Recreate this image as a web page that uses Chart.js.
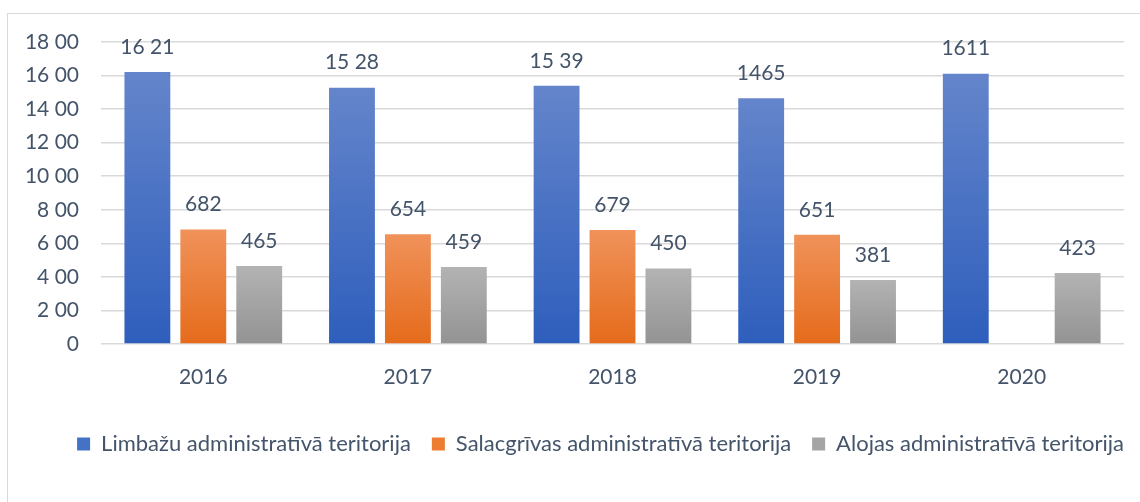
<!DOCTYPE html>
<html>
<head>
<meta charset="utf-8">
<script src="https://cdn.jsdelivr.net/npm/chart.js@4"></script>
<style>
  html, body { margin: 0; padding: 0; background: #fff; }
  #frame { position: absolute; left: 7px; top: 13px; width: 1200px; height: 600px;
           border-left: 1.5px solid #d9d9d9; border-top: 1.5px solid #d9d9d9; }
  #wrap { position: absolute; left: 0; top: 0; width: 1140px; height: 502px; }
</style>
</head>
<body>
<div id="frame"></div>
<div id="wrap"><canvas id="chart"></canvas></div>
<script>
const years = ['2016', '2017', '2018', '2019', '2020'];
const limbazi = [1621, 1528, 1539, 1465, 1611];
const salacgriva = [682, 654, 679, 651, null];
const aloja = [465, 459, 450, 381, 423];
const limbaziLabels = ['16 21', '15 28', '15 39', '1465', '1611'];
const salacgrivaLabels = ['682', '654', '679', '651', ''];
const alojaLabels = ['465', '459', '450', '381', '423'];
const yTickLabels = ['0', '2 00', '4 00', '6 00', '8 00', '10 00', '12 00', '14 00', '16 00', '18 00'];

const textColor = '#44546a';
const fontFamily = 'Lato, "Open Sans", sans-serif';

function barGradient(top, bottom) {
    return (context) => {
        const chart = context.chart;
        const area = chart.chartArea;
        if (!area || context.raw == null) return bottom;
        const y = chart.scales.y.getPixelForValue(context.raw);
        const base = chart.scales.y.getPixelForValue(0);
        const g = chart.ctx.createLinearGradient(0, y, 0, base);
        g.addColorStop(0, top);
        g.addColorStop(1, bottom);
        return g;
    };
}

// value labels above the bars
const valueLabelPlugin = {
    id: 'valueLabels',
    afterDatasetsDraw(chart) {
        const ctx = chart.ctx;
        ctx.save();
        ctx.fillStyle = textColor;
        ctx.font = '21px ' + fontFamily;
        ctx.textAlign = 'center';
        ctx.textBaseline = 'middle';
        chart.data.datasets.forEach((ds, i) => {
            chart.getDatasetMeta(i).data.forEach((bar, j) => {
                if (ds.data[j] == null) return;
                ctx.fillText(ds.valueLabels[j], bar.x, bar.y - 25);
            });
        });
        ctx.restore();
    }
};

// nudge the legend row a bit to the right, like the original
const legendShiftPlugin = {
    id: 'legendShift',
    afterLayout(chart) {
        if (!chart.legend) return;
        chart.legend.left += 21;
        chart.legend.right += 21;
    }
};

const ctx = document.getElementById('chart').getContext('2d');
const chart = new Chart(ctx, {
    type: 'bar',
    data: {
        labels: years,
        datasets: [{
            label: 'Limbažu administratīvā teritorija',
            data: limbazi,
            valueLabels: limbaziLabels,
            backgroundColor: barGradient('#6485cb', '#2e5ebc'),
            legendColor: '#4472c4'
        }, {
            label: 'Salacgrīvas administratīvā teritorija',
            data: salacgriva,
            valueLabels: salacgrivaLabels,
            backgroundColor: barGradient('#f0925a', '#e56b1b'),
            legendColor: '#ed7d31'
        }, {
            label: 'Alojas administratīvā teritorija',
            data: aloja,
            valueLabels: alojaLabels,
            backgroundColor: barGradient('#b3b3b3', '#939393'),
            legendColor: '#a5a5a5'
        }]
    },
    options: {
        responsive: true,
        maintainAspectRatio: false,
        animation: false,
        layout: { padding: { top: 42, right: 16, bottom: 37, left: 0 } },
        datasets: { bar: { categoryPercentage: 0.82, barPercentage: 0.82 } },
        scales: {
            x: {
                grid: { display: false, drawTicks: false },
                border: { display: false },
                ticks: { color: textColor, font: { family: fontFamily, size: 21 }, padding: 21 },
                afterFit: (scale) => { scale.height = 68; }
            },
            y: {
                min: 0, max: 1800,
                grid: { color: '#d9d9d9', lineWidth: 1.5, drawTicks: false },
                border: { display: false },
                ticks: {
                    stepSize: 200,
                    color: textColor,
                    font: { family: fontFamily, size: 21 },
                    padding: 22,
                    callback: (value, index) => yTickLabels[index]
                },
                afterFit: (scale) => { scale.width = 101; }
            }
        },
        plugins: {
            tooltip: { enabled: false },
            legend: {
                position: 'bottom',
                align: 'end',
                labels: {
                    color: textColor,
                    font: { family: fontFamily, size: 22 },
                    boxWidth: 13,
                    boxHeight: 13,
                    padding: 21,
                    generateLabels: (chart) => chart.data.datasets.map((ds, i) => ({
                        text: ds.label,
                        fillStyle: ds.legendColor,
                        strokeStyle: ds.legendColor,
                        lineWidth: 0,
                        fontColor: textColor,
                        datasetIndex: i,
                        hidden: false
                    }))
                }
            }
        }
    },
    plugins: [valueLabelPlugin, legendShiftPlugin]
});
</script>
</body>
</html>
